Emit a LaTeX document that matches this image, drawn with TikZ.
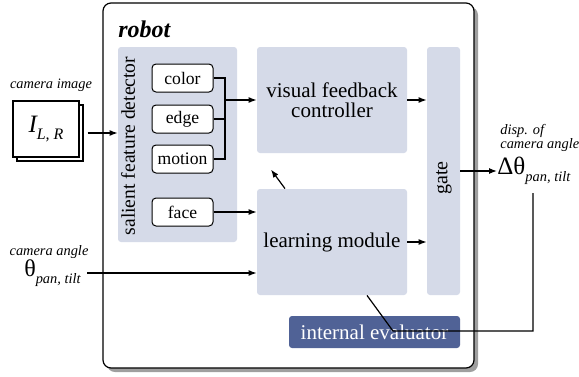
\documentclass[tikz,border=0pt]{standalone}
\usepackage{fontspec}
\setmainfont{LiberationSerif}[Extension=.ttf, UprightFont=*-Regular, BoldFont=*-Bold,
    ItalicFont=*-Italic, BoldItalicFont=*-BoldItalic]
\usetikzlibrary{arrows.meta,calc,shadows,positioning}
\definecolor{panelblue}{RGB}{213,218,232}
\definecolor{evalblue}{RGB}{80,98,150}

\begin{document}
\begin{tikzpicture}[x=0.5pt,y=-0.5pt,
        block/.style={fill=panelblue, rounded corners=1.5pt, inner sep=0pt, align=center,
        font=\fontsize{10.5}{10}\selectfont},
        feature/.style={draw, fill=white, rounded corners=2pt, line width=0.5pt, inner sep=0pt,
        minimum width=30.5pt, minimum height=14pt, font=\fontsize{8.8}{10}\selectfont},
        note/.style={font=\fontsize{7.2}{7}\selectfont\itshape, align=left, inner sep=0pt},
        arr/.style={-{Latex[length=4pt,width=3pt]}, line width=0.6pt},
        wire/.style={line width=0.6pt}]
        \useasboundingbox (0,0) rectangle (579,376);

        % robot
        \node [draw, fill=white, line width=0.6pt, rounded corners=4pt, minimum width=185.5pt, minimum height=182.5pt,
        drop shadow={shadow xshift=2pt, shadow yshift=-2pt, fill=gray!75, opacity=1}] (robot) at (288.5,185.5) {};
        \node [anchor=west, inner sep=0pt, font=\fontsize{12}{14}\selectfont\bfseries\itshape] (robotlbl) at (118,29) {robot};

        % salient feature detector
        \node [block, minimum width=59.5pt, minimum height=97.5pt] (sfd) at (177.5,144.5) {};
        \node [rotate=90, inner sep=0pt, font=\fontsize{9.8}{10}\selectfont] (sfdlbl) at (128,146) {salient feature detector};
        \node [feature] (fcolor) at (182.5,78) {color};
        \node [feature] (fedge) at (182.5,119) {edge};
        \node [feature] (fmotion) at (182.5,159) {motion};
        \node [feature] (fface) at (182.5,212) {face};

        \node [block, minimum width=75pt, minimum height=53pt] (vfc) at (332,100) {visual feedback\\controller};
        \node [block, minimum width=75pt, minimum height=53pt] (learn) at (332,242) {learning module};
        \node [block, minimum width=16.5pt, minimum height=124pt] (gate) at (443.5,171) {};
        \node [rotate=90, inner sep=0pt, font=\fontsize{10}{10}\selectfont] (gatelbl) at (444,178) {gate};
        \node [fill=evalblue, text=white, rounded corners=1.5pt, inner sep=0pt, minimum width=85.5pt, minimum height=16pt,
        font=\fontsize{10.5}{12}\selectfont] (eval) at (374.5,332) {internal evaluator};

        % inputs and output
        \node [draw, fill=white, line width=0.6pt, minimum width=33pt, minimum height=28pt] (imgback) at (50,133) {};
        \node [draw, fill=white, line width=0.6pt, minimum width=33pt, minimum height=28pt] (img) at (46,129)
        {\fontsize{12.5}{14}\selectfont\itshape I\raisebox{-0.6ex}{\fontsize{8}{9}\selectfont L, R}};
        \node [note] (imglbl) at (51,85) {camera image};
        \node [note] (anglelbl) at (49,252) {camera angle};
        \node [anchor=east, inner sep=0pt] (theta) at (81,273)
        {\fontsize{12}{14}\selectfont θ\raisebox{-0.6ex}{\fontsize{7.2}{8}\selectfont\itshape pan, tilt}};
        \node [anchor=west, inner sep=0pt] (dtheta) at (497,171)
        {\fontsize{12.5}{14}\selectfont Δθ\raisebox{-0.6ex}{\fontsize{7.2}{8}\selectfont\itshape pan, tilt}};
        \node [note, anchor=south west] (displbl) at (500,152) {disp. of\\camera angle};

        % connections
        \coordinate (bus) at (225,100);
        \draw [wire] (fcolor.east) -| (bus) |- (fmotion.east);
        \draw [wire] (fedge.east) -| (bus);
        \draw [arr] (bus) -- (bus -| vfc.west);
        \draw [arr, shorten <=2pt] (imgback.east) -- (imgback.east -| sfd.west);
        \draw [arr] (fface.east) -- (fface.east -| learn.west);
        \draw [arr, shorten <=3pt] (theta.east) -- (theta.east -| learn.west);
        \draw [arr] (vfc.east) -- (vfc.east -| gate.west);
        \draw [arr] (learn.east) -- (learn.east -| gate.west);
        \draw [arr] ([xshift=-23.5pt]learn.north) -- ++(-14,-19);
        \draw [arr] (gate.east) -- (dtheta.west);
        \coordinate (fbcorner) at (533,331);
        \coordinate (evalin) at (393,331);
        \draw [wire, shorten <=4pt] (dtheta.south -| fbcorner) -- (fbcorner) -- (evalin) -- ([xshift=17.5pt]learn.south);
    \end{tikzpicture}
\end{document}
